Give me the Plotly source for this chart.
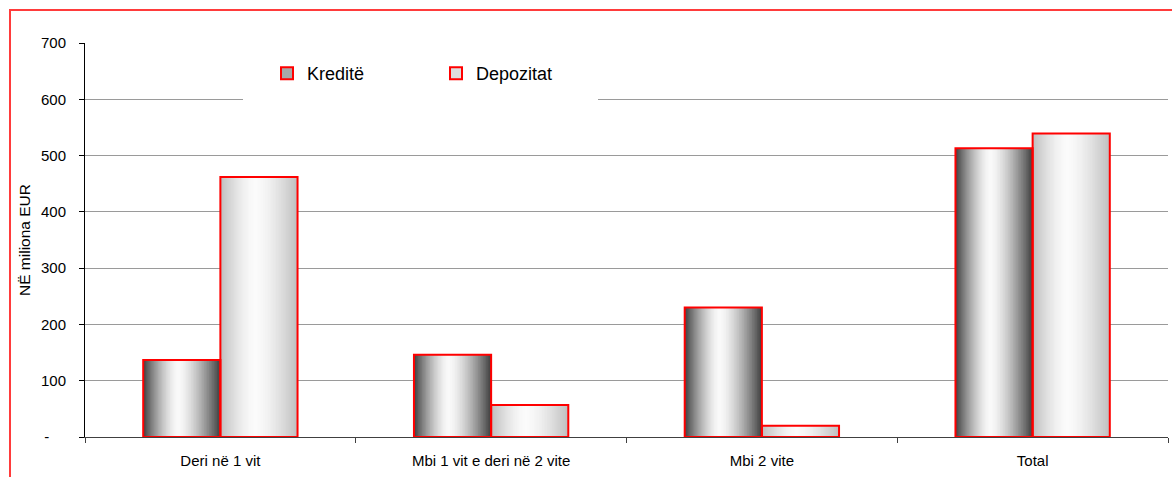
import plotly.graph_objects as go

categories = ["Deri në 1 vit", "Mbi 1 vit e deri në 2 vite", "Mbi 2 vite", "Total"]
kredite = [137, 146, 230, 513]
depozitat = [462, 57, 20, 539]
series_names = ["Kreditë", "Depozitat"]
y_tickvals = [0, 100, 200, 300, 400, 500, 600, 700]
y_ticktext = ["-" + "\u00a0" * 4, "100", "200", "300", "400", "500", "600", "700"]

W, H = 1172, 477
ML, MR, MT, MB = 85, 4, 43, 40
PW, PH = W - ML - MR, H - MT - MB

FONT = "Liberation Sans, Arial, sans-serif"
BAR_W = 0.285
N_LAYERS = 26
PEAK = 0.45


def shade(edge, centre, d, gamma=1.5):
    t = d ** gamma
    return int(round(centre + (edge - centre) * t))


def px_x(p):
    return (p - ML) / PW


def px_y(p):
    return 1 - (p - MT) / PH


fig = go.Figure()

series = [
    (kredite, -BAR_W, 62, 250, "#a8a8a8"),
    (depozitat, 0.0, 190, 251, "#dedede"),
]

for vals, base_off, edge, centre, leg_col in series:
    for k in range(N_LAYERS):
        f = 1 - k / N_LAYERS
        f_next = 1 - (k + 1) / N_LAYERS
        d = (f + f_next) / 2
        g = shade(edge, centre, d)
        col = f"rgb({g},{g},{g})"
        width = BAR_W * f
        off = base_off + BAR_W * PEAK * (1 - f)
        fig.add_trace(go.Bar(
            x=categories, y=vals,
            width=[width] * len(categories), offset=[off] * len(categories),
            marker=dict(color=col, line=dict(width=0)),
            showlegend=False, hoverinfo="skip",
        ))

# outlines
for (vals, base_off, edge, centre, leg_col), name in zip(series, series_names):
    fig.add_trace(go.Bar(
        x=categories, y=vals,
        width=[BAR_W] * len(categories), offset=[base_off] * len(categories),
        marker=dict(color="rgba(0,0,0,0)", line=dict(color="#ff0000", width=2)),
        showlegend=False, name=name,
    ))

# legend entries
for (vals, base_off, edge, centre, leg_col), name in zip(series, series_names):
    fig.add_trace(go.Bar(
        x=categories, y=[None] * len(categories), name=name,
        marker=dict(color=leg_col, line=dict(color="#ff0000", width=2)),
        showlegend=True,
    ))

# red chart border (partially cropped)
fig.add_shape(
    type="rect", xref="paper", yref="paper",
    x0=px_x(10), x1=1.2, y0=-0.5, y1=px_y(10),
    line=dict(color="#ff3b3b", width=2), fillcolor="rgba(0,0,0,0)", layer="below",
)
# white legend area covering the gridline
fig.add_shape(
    type="rect", xref="paper", yref="paper",
    x0=px_x(243), x1=px_x(598), y0=px_y(102), y1=px_y(52),
    line=dict(width=0), fillcolor="white", layer="above",
)

fig.update_layout(
    width=W, height=H,
    margin=dict(l=ML, r=MR, t=MT, b=MB, pad=0),
    barmode="overlay",
    plot_bgcolor="white", paper_bgcolor="white",
    font=dict(family=FONT, size=15, color="black"),
    showlegend=True,
    legend=dict(
        orientation="h", x=px_x(267), y=px_y(55),
        xanchor="left", yanchor="top",
        bgcolor="rgba(255,255,255,0)", borderwidth=0,
        font=dict(family=FONT, size=18, color="black"),
        entrywidth=124, entrywidthmode="pixels",
        itemwidth=30, traceorder="normal",
    ),
    xaxis=dict(
        type="category", categoryorder="array", categoryarray=categories,
        showgrid=False, showline=True, linecolor="#404040", linewidth=1,
        ticks="outside", tickson="boundaries", ticklen=5, tickcolor="#404040",
        tickfont=dict(family=FONT, size=15, color="black"),
        range=[-0.5, 3.5], ticklabelstandoff=10,
    ),
    yaxis=dict(
        range=[0, 700], tickvals=y_tickvals, ticktext=y_ticktext,
        showgrid=True, gridcolor="#9a9a9a", gridwidth=1,
        showline=True, linecolor="black", linewidth=1,
        ticks="outside", ticklen=5, tickcolor="black",
        tickfont=dict(family=FONT, size=15, color="black"),
        ticklabelstandoff=10, zeroline=False,
        title=dict(text="NË miliona EUR", font=dict(family=FONT, size=15.5, color="black"), standoff=6),
    ),
)

fig.write_html(
    "out.html",
    config={"displayModeBar": False},
    post_script="document.body.style.margin='0';document.body.style.overflow='hidden';",
)
